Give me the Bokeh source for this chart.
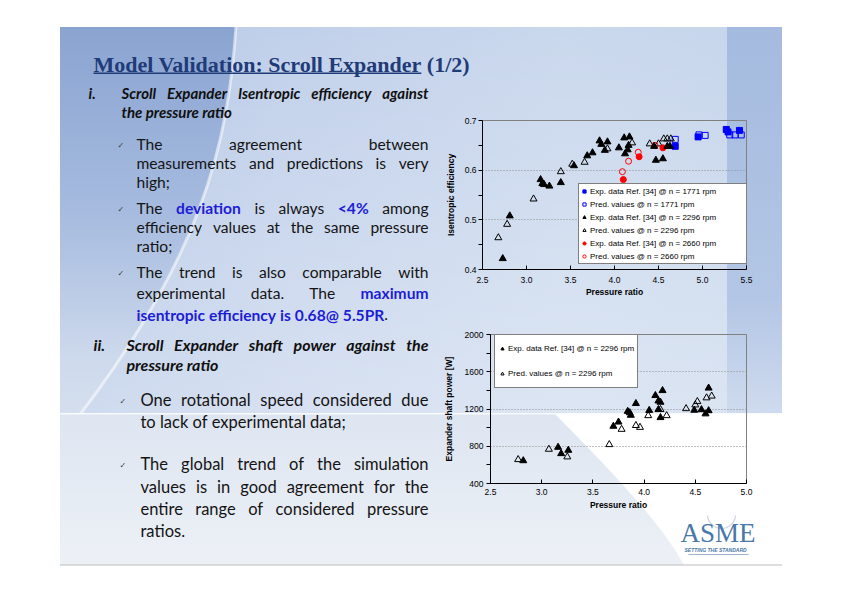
import os, glob
from urllib.parse import quote
from bokeh.plotting import figure
from bokeh.models import Range1d, Legend, LegendItem, FixedTicker, PrintfTickFormatter
from bokeh.layouts import column, row
from bokeh.core.properties import value
from bokeh.embed import file_html
from bokeh.resources import INLINE

# ---------------- data: isentropic efficiency vs pressure ratio ----------------
exp1771_pr = [4.69, 4.95, 5.27, 5.29, 5.42]
exp1771_eff = [0.648, 0.667, 0.682, 0.677, 0.680]
pred1771_pr = [4.69, 4.96, 5.03, 5.31, 5.37, 5.44]
pred1771_eff = [0.662, 0.671, 0.670, 0.671, 0.671, 0.671]

exp2296_pr = [2.73, 2.81, 3.16, 3.18, 3.20, 3.26, 3.39, 3.54, 3.69, 3.75, 3.83, 3.85,
              3.92, 3.89, 4.05, 4.11, 4.12, 4.15, 4.16, 4.17, 4.45, 4.47, 4.55, 4.60, 4.63]
exp2296_eff = [0.422, 0.508, 0.581, 0.573, 0.571, 0.568, 0.575, 0.609, 0.629, 0.635, 0.659, 0.652,
               0.657, 0.640, 0.645, 0.665, 0.633, 0.641, 0.650, 0.667, 0.648, 0.620, 0.623, 0.648, 0.648]
pred2296_pr = [2.68, 2.78, 3.08, 3.39, 3.52, 3.66, 3.92, 4.20, 4.40, 4.50, 4.56, 4.60, 4.64]
pred2296_eff = [0.464, 0.491, 0.542, 0.597, 0.612, 0.616, 0.643, 0.655, 0.653, 0.653, 0.663, 0.663, 0.663]

exp2660_pr = [4.10, 4.28, 4.55]
exp2660_eff = [0.581, 0.627, 0.645]
pred2660_pr = [4.09, 4.16, 4.27, 4.46]
pred2660_eff = [0.597, 0.618, 0.636, 0.650]

eff_xticks = [2.5, 3.0, 3.5, 4.0, 4.5, 5.0, 5.5]
eff_yticks = [0.4, 0.5, 0.6, 0.7]

# ---------------- data: shaft power vs pressure ratio ----------------
pow_exp_pr = [2.82, 3.16, 3.19, 3.26, 3.70, 3.75, 3.84, 3.86, 3.87, 3.92, 4.05, 4.11,
              4.14, 4.16, 4.14, 4.16, 4.18, 4.49, 4.56, 4.60, 4.63, 4.63]
pow_exp_w = [645, 789, 721, 757, 1015, 1060, 1175, 1160, 1133, 1259, 1185, 1345,
             1287, 1273, 1194, 1108, 1398, 1187, 1193, 1148, 1182, 1425]
pow_pred_pr = [2.77, 3.07, 3.25, 3.66, 3.78, 3.92, 3.96, 4.04, 4.16, 4.22, 4.41, 4.50, 4.52, 4.61, 4.66]
pow_pred_w = [657, 768, 686, 818, 982, 1023, 1003, 1129, 1195, 1129, 1204, 1244, 1280, 1320, 1339]

pow_xticks = [2.5, 3.0, 3.5, 4.0, 4.5, 5.0]
pow_yticks = [400, 800, 1200, 1600, 2000]

# ---------------- slide texts ----------------
title_main = "Model Validation: Scroll Expander"
title_part = "(1/2)"
head1_num = "i."
head1_lines = ["Scroll Expander Isentropic efficiency against", "the pressure ratio"]
sec1_lines = [
    ("The agreement between", True, True),
    ("measurements and predictions is very", True, False),
    ("high;", False, False),
    ("The *deviation is always *<4% among", True, True),
    ("efficiency values at the same pressure", True, False),
    ("ratio;", False, False),
    ("The trend is also comparable with", True, True),
    ("experimental data. The *maximum", True, False),
    ("*isentropic *efficiency *is *0.68@ *5.5PR +.", False, False),
]
head2_num = "ii."
head2_lines = ["Scroll Expander shaft power against the", "pressure ratio"]
sec2_lines = [
    ("One rotational speed considered due", True, True),
    ("to lack of experimental data;", False, False),
    ("The global trend of the simulation", True, True),
    ("values is in good agreement for the", True, False),
    ("entire range of considered pressure", True, False),
    ("ratios.", False, False),
]
logo_word = "ASME"
logo_tag = "SETTING THE STANDARD"

# ---------------- text measuring ----------------
def find_font(fname):
    for d in ["/usr/share/fonts", "/usr/local/share/fonts",
              os.path.expanduser("~/.fonts"), os.path.expanduser("~/.local/share/fonts")]:
        try:
            hits = glob.glob(os.path.join(d, "**", fname), recursive=True)
        except Exception:
            hits = []
        if hits:
            return hits[0]
    return None

try:
    from PIL import ImageFont
except Exception:
    ImageFont = None

_fcache = {}
def measure(text, fname, size):
    if fname not in _fcache:
        f = None
        path = find_font(fname)
        if ImageFont is not None and path:
            try:
                f = ImageFont.truetype(path, 100)
            except Exception:
                f = None
        _fcache[fname] = f
    f = _fcache[fname]
    if f is None:
        return len(text) * 0.5 * size
    try:
        return f.getlength(text) * size / 100.0
    except Exception:
        return len(text) * 0.5 * size

STYLES = {
    "n": ("Lato", "normal", "#141414", "Lato-Regular.ttf"),
    "b": ("Lato", "bold", "#1d1dd8", "Lato-Bold.ttf"),
    "h": ("Lato", "bold italic", "#101010", "Lato-BoldItalic.ttf"),
}

entries = []  # (x, y, text, font, size, fstyle, color, align)

def add_text(x, y, text, style, size, align="left"):
    font, fst, col, _ = STYLES[style]
    entries.append((x, y, text, font, size, fst, col, align))

def parse(line, default_style):
    toks = []
    for t in line.split(" "):
        attach = False
        st = default_style
        if t.startswith("+"):
            attach = True
            t = t[1:]
        if t.startswith("*"):
            st = "b"
            t = t[1:]
        toks.append((t, st, attach))
    return toks

def place_line(line, y, L, R, size, justify, default_style="n"):
    toks = parse(line, default_style)
    widths = [measure(t, STYLES[s][3], size) for t, s, a in toks]
    nspace = sum(1 for i, (t, s, a) in enumerate(toks) if i > 0 and not a)
    space = measure(" ", STYLES[default_style][3], size)
    if justify and nspace > 0:
        gap = (R - L - sum(widths)) / nspace
    else:
        gap = space
    x = L
    for i, (t, s, a) in enumerate(toks):
        if i > 0 and not a:
            x += gap
        if justify and i == len(toks) - 1 and nspace > 0:
            add_text(R, y, t, s, size, "right")
        else:
            add_text(x, y, t, s, size, "left")
        x += widths[i]

def check(x, y, size=8):
    entries.append((x, y + 1.5, "\u2713", "DejaVu Sans", size, "normal", "#3a3a3a", "left"))

# section 1
H1 = 15
place_line(head1_num, 92, 88, 428, H1, False, "h")
place_line(head1_lines[0], 92, 121, 428, H1, True, "h")
place_line(head1_lines[1], 111, 121, 428, H1, False, "h")
B1 = 15.6
ys1 = [143, 162, 181, 207, 226, 245, 271, 292, 314]
for (ln, just, bul), y in zip(sec1_lines, ys1):
    if bul:
        check(117, y)
    place_line(ln, y, 136, 428, B1, just)

# section 2
H2 = 16
place_line(head2_num, 344, 93, 428, H2, False, "h")
place_line(head2_lines[0], 344, 126, 428, H2, True, "h")
place_line(head2_lines[1], 364, 126, 428, H2, False, "h")
B2 = 16.5
ys2 = [399, 421, 463, 486, 508, 530]
for (ln, just, bul), y in zip(sec2_lines, ys2):
    if bul:
        check(119, y)
    place_line(ln, y, 140, 428, B2, just)

def draw_entries(p, ents):
    groups = {}
    for e in ents:
        key = e[3:]
        groups.setdefault(key, []).append(e)
    for (font, size, fst, col, align), es in groups.items():
        p.text(x=[e[0] for e in es], y=[e[1] for e in es], text=[e[2] for e in es],
               text_font=value(font), text_font_size=f"{size}px", text_font_style=fst,
               text_color=col, text_align=align, text_baseline="middle")

def blank_fig(w, h, xr, yr):
    p = figure(width=w, height=h, x_range=Range1d(*xr), y_range=Range1d(*yr),
               output_backend="svg", toolbar_location=None, tools="",
               min_border=0, x_axis_location=None, y_axis_location=None,
               background_fill_color=None, border_fill_color=None, outline_line_color=None,
               frame_align=False)
    p.grid.visible = False
    return p

# ---------------- title figure (page px 0..842 x 0..80) ----------------
tfig = blank_fig(842, 80, (0, 842), (80, 0))
TS = 22
tw = measure(title_main, "LiberationSerif-Bold.ttf", TS)
sw = measure(" ", "LiberationSerif-Bold.ttf", TS)
tfig.text(x=[93, 93 + tw + sw], y=[63.5, 63.5], text=[title_main, title_part],
          text_font=value("Liberation Serif"), text_font_size=f"{TS}px", text_font_style="bold",
          text_color="#1f3b78", text_align="left", text_baseline="middle")
tfig.segment(x0=[93], y0=[72.8], x1=[93 + tw], y1=[72.8], line_color="#1f3b78", line_width=1.5)

# ---------------- text figure (page px 0..440 x 80..595) ----------------
txt = blank_fig(440, 515, (0, 440), (595, 80))
draw_entries(txt, entries)

# ---------------- chart helpers ----------------
AXF = "Liberation Sans"

def style_axes(c, xlab, ylab, xticks, yticks, yminor, xfmt, yfmt, ylab_st, ymaj_st, xmaj_st, xlab_st):
    c.xaxis.ticker = FixedTicker(ticks=xticks, minor_ticks=[])
    c.yaxis.ticker = FixedTicker(ticks=yticks, minor_ticks=yminor)
    c.xaxis.formatter = PrintfTickFormatter(format=xfmt)
    c.yaxis.formatter = PrintfTickFormatter(format=yfmt)
    for ax in (c.xaxis, c.yaxis):
        ax.axis_line_color = "#000000"
        ax.major_tick_line_color = "#000000"
        ax.minor_tick_line_color = "#000000"
        ax.major_label_text_font = AXF
        ax.major_label_text_font_size = "8.5px"
        ax.major_label_text_color = "#000000"
        ax.axis_label_text_font = AXF
        ax.axis_label_text_font_size = "8.5px"
        ax.axis_label_text_font_style = "bold"
        ax.axis_label_text_color = "#000000"
    c.xaxis.axis_label = xlab
    c.yaxis.axis_label = ylab
    c.xaxis.major_tick_in = 4
    c.xaxis.major_tick_out = 0
    c.yaxis.major_tick_in = 0
    c.yaxis.major_tick_out = 4
    c.yaxis.minor_tick_in = 0
    c.yaxis.minor_tick_out = 4
    c.yaxis.axis_label_standoff = ylab_st
    c.yaxis.major_label_standoff = ymaj_st
    c.xaxis.major_label_standoff = xmaj_st
    c.xaxis.axis_label_standoff = xlab_st
    c.xgrid.visible = False
    c.ygrid.ticker = FixedTicker(ticks=yticks[1:-1])
    c.ygrid.grid_line_color = "#8c8c8c"
    c.ygrid.grid_line_dash = "1 2"
    c.ygrid.grid_line_width = 1

def make_legend(items, loc, padding, spacing, lh, lw):
    return Legend(items=items, location=loc, margin=0, padding=padding, spacing=spacing,
                  label_text_font=AXF, label_text_font_size="8px", label_text_color="#000000",
                  label_height=lh, glyph_height=lh, glyph_width=8, label_standoff=2, label_width=lw,
                  border_line_color="#000000", border_line_width=1,
                  background_fill_color="#ffffff", background_fill_alpha=1.0)

# ---------------- chart 1 (page px 440..842 x 80..325) ----------------
c1 = figure(width=402, height=245, x_range=Range1d(2.5, 5.5), y_range=Range1d(0.4, 0.7),
            output_backend="svg", toolbar_location=None, tools="",
            min_border_left=42, min_border_right=96, min_border_top=40, min_border_bottom=56,
            background_fill_color=None, border_fill_color=None,
            outline_line_color="#808080", outline_line_width=1, frame_align=False)
style_axes(c1, "Pressure ratio", "Isentropic efficiency", eff_xticks, eff_yticks,
           [0.45, 0.55, 0.65], "%.1f", "%.1f", 6, 2, 7, 1)

r_e17 = c1.scatter(exp1771_pr, exp1771_eff, marker="square", size=6, fill_color="#0000ff", line_color="#0000ff")
r_p17 = c1.scatter(pred1771_pr, pred1771_eff, marker="square", size=6, fill_color=None, line_color="#0000ff", line_width=1)
r_p22 = c1.scatter(pred2296_pr, pred2296_eff, marker="triangle", size=7, fill_color=None, line_color="#000000", line_width=1)
r_e26 = c1.scatter(exp2660_pr, exp2660_eff, marker="circle", size=6, fill_color="#ff0000", line_color="#ff0000")
r_p26 = c1.scatter(pred2660_pr, pred2660_eff, marker="circle", size=6, fill_color=None, line_color="#ff0000", line_width=1)
r_e22 = c1.scatter(exp2296_pr, exp2296_eff, marker="triangle", size=7, fill_color="#000000", line_color="#000000")

lg1 = make_legend([
    LegendItem(label="Exp. data Ref. [34] @ n = 1771 rpm", renderers=[r_e17]),
    LegendItem(label="Pred. values @ n = 1771 rpm", renderers=[r_p17]),
    LegendItem(label="Exp. data Ref. [34] @ n = 2296 rpm", renderers=[r_e22]),
    LegendItem(label="Pred. values @ n = 2296 rpm", renderers=[r_p22]),
    LegendItem(label="Exp. data Ref. [34] @ n = 2660 rpm", renderers=[r_e26]),
    LegendItem(label="Pred. values @ n = 2660 rpm", renderers=[r_p26]),
], (96, 5), 1, 1, 12, 155)
c1.add_layout(lg1)

# ---------------- chart 2 (page px 440..842 x 325..515) ----------------
c2 = figure(width=402, height=190, x_range=Range1d(2.5, 5.0), y_range=Range1d(400, 2000),
            output_backend="svg", toolbar_location=None, tools="",
            min_border_left=49, min_border_right=96, min_border_top=9, min_border_bottom=32,
            background_fill_color=None, border_fill_color=None,
            outline_line_color="#808080", outline_line_width=1, frame_align=False)
style_axes(c2, "Pressure ratio", "Expander shaft power [W]", pow_xticks, pow_yticks,
           [600, 1000, 1400, 1800], "%.1f", "%d", 8, 3, 5, 2)

r2_p = c2.scatter(pow_pred_pr, pow_pred_w, marker="triangle", size=7, fill_color=None, line_color="#000000", line_width=1)
r2_e = c2.scatter(pow_exp_pr, pow_exp_w, marker="triangle", size=7, fill_color="#000000", line_color="#000000")
lg2 = make_legend([
    LegendItem(label="Exp. data Ref. [34] @ n = 2296 rpm", renderers=[r2_e]),
    LegendItem(label="Pred. values @ n = 2296 rpm", renderers=[r2_p]),
], (4, 95), 3, 4, 21, 0)
c2.add_layout(lg2)

# ---------------- logo figure (page px 440..842 x 515..595) ----------------
logo = blank_fig(402, 80, (440, 842), (595, 515))
logo.ellipse(x=[721], y=[514], width=28, height=28, fill_color=None, line_color="#c9d3e2", line_width=1.2)
logo.text(x=[680], y=[532], text=[logo_word], text_font=value("Liberation Serif"), text_font_size="27px",
          text_color="#4a78a8", text_align="left", text_baseline="middle")
logo.text(x=[684], y=[549], text=[logo_tag], text_font=value("Liberation Sans"),
          text_font_size="5px", text_font_style="bold italic", text_color="#4a78a8",
          text_align="left", text_baseline="middle")
logo.segment(x0=[688], y0=[554], x1=[748], y1=[554], line_color="#9db3cf", line_width=1)

# ---------------- slide background (CSS) ----------------
svg = (
    "<svg xmlns='http://www.w3.org/2000/svg' width='842' height='595' viewBox='0 0 842 595'>"
    "<defs>"
    "<linearGradient id='h' x1='0' y1='0' x2='1' y2='0'>"
    "<stop offset='0' stop-color='#b3c6e4'/><stop offset='0.3' stop-color='#c1d0ea'/>"
    "<stop offset='0.7' stop-color='#cad8ed'/><stop offset='1' stop-color='#c6d5eb'/></linearGradient>"
    "<linearGradient id='v' x1='0' y1='0' x2='0' y2='1'>"
    "<stop offset='0' stop-color='#ffffff' stop-opacity='0'/><stop offset='1' stop-color='#ffffff' stop-opacity='0.35'/></linearGradient>"
    "<linearGradient id='l' x1='0' y1='0' x2='0' y2='1'>"
    "<stop offset='0' stop-color='#8aa4d1'/><stop offset='0.45' stop-color='#a6bbdf'/>"
    "<stop offset='0.8' stop-color='#cdd9ec'/><stop offset='1' stop-color='#d8e1ef'/></linearGradient>"
    "<linearGradient id='r' x1='0' y1='0' x2='0' y2='1'>"
    "<stop offset='0' stop-color='#a4bbdf'/><stop offset='0.7' stop-color='#b3c6e5'/>"
    "<stop offset='1' stop-color='#cfdbee'/></linearGradient>"
    "<linearGradient id='b' x1='0' y1='0' x2='0' y2='1'>"
    "<stop offset='0' stop-color='#dde5f1'/><stop offset='1' stop-color='#edf1f6'/></linearGradient>"
    "</defs>"
    "<rect x='0' y='0' width='842' height='595' fill='#ffffff'/>"
    "<rect x='60' y='27' width='722' height='387' fill='url(#h)'/>"
    "<rect x='60' y='27' width='722' height='387' fill='url(#v)'/>"
    "<path d='M60,27 L236,27 C228,140 205,260 60,440 Z' fill='url(#l)'/>"
    "<path d='M236,27 C228,140 205,260 60,440' fill='none' stroke='#ffffff' stroke-opacity='0.55' stroke-width='3'/>"
    "<rect x='727' y='27' width='55' height='387' fill='url(#r)'/>"
    "<rect x='60' y='414' width='722' height='151' fill='url(#b)'/>"
    "<path d='M555,414 L782,414 L782,565 L684,565 C660,520 600,460 555,414 Z' fill='#ffffff'/>"
    "<rect x='60' y='413' width='722' height='1.5' fill='#ffffff' fill-opacity='0.85'/>"
    "<rect x='60' y='564.5' width='722' height='1' fill='#bdbdbd'/>"
    "</svg>"
)
bg = "url(\"data:image/svg+xml;charset=utf-8," + quote(svg, safe="") + "\")"

layout = column(
    tfig,
    row(txt, column(c1, c2, logo)),
    styles={"background-image": bg, "background-repeat": "no-repeat",
            "background-size": "842px 595px", "background-position": "0 0"},
)

open("out.html", "w").write(file_html(layout, INLINE))
